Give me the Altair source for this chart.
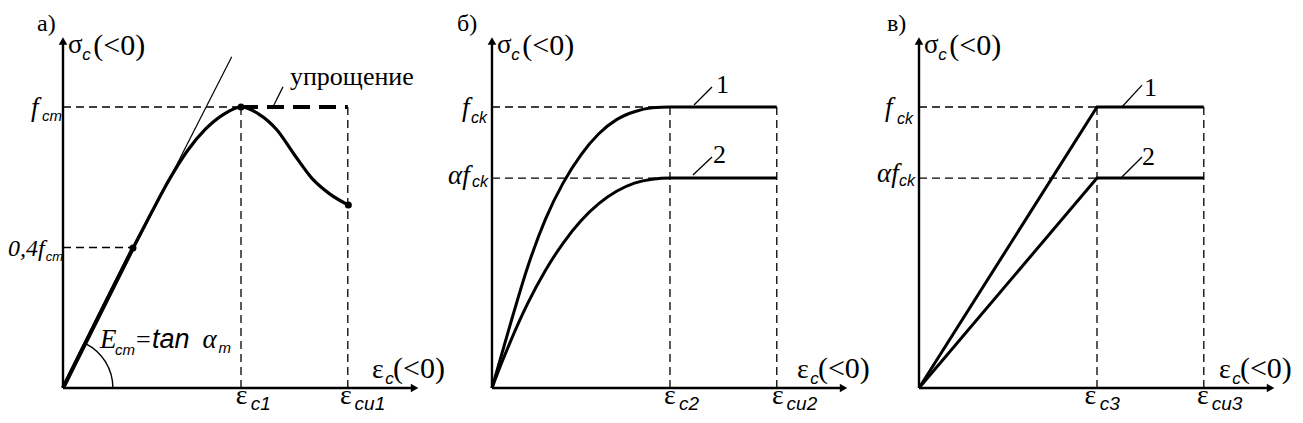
import altair as alt
import pandas as pd

# ---------------- data (strain in units of eps_c, stress in units of f) ----------------
EPS_C = 1.0          # eps_c1 / eps_c2 / eps_c3
EPS_CU = 1.6         # eps_cu1 / eps_cu2 / eps_cu3
F_TOP = 1.0          # f_cm / f_ck
ALPHA_F = 0.747      # alpha * f_ck
F_04 = 0.5           # level drawn for 0,4 f_cm

# panel a) – measured curve
A_CURVE_X = [0.0, 0.393, 0.5, 0.6, 0.7, 0.8, 0.9, 1.0, 1.1, 1.2, 1.3, 1.4, 1.5, 1.603]
A_CURVE_Y = [0.0, 0.498, 0.628, 0.745, 0.845, 0.921, 0.973, 1.0, 0.975, 0.92, 0.83, 0.745, 0.69, 0.651]
A_DOTS_X = [0.393, 1.0, 1.603]
A_DOTS_Y = [0.498, 1.0, 0.651]
A_TANGENT_END = (0.948, 1.179)

# panel б) – parabola-rectangle curves
B_X = [0.0, 0.05, 0.1, 0.2, 0.3, 0.4, 0.5, 0.6, 0.7, 0.8, 0.9, 1.0, 1.6]
B_CURVE1 = [0.0, 0.11, 0.22, 0.43, 0.60, 0.73, 0.83, 0.905, 0.955, 0.983, 0.997, 1.0, 1.0]
B_CURVE2 = [0.0, 0.083, 0.160, 0.300, 0.418, 0.516, 0.595, 0.656, 0.700, 0.729, 0.743, 0.747, 0.747]

# panel в) – bilinear
C_X = [0.0, 1.0, 1.6]
C_LINE1 = [0.0, 1.0, 1.0]
C_LINE2 = [0.0, 0.747, 0.747]

AXIS_Y_END = 1.23
AXIS_X_END = 1.97

# ---------------- layout ----------------
W, H = 1287, 407
Y_DOM = [-27 / 281, 380 / 281]
X_SPAN = W / 178
DOM_A = [-0.309, -0.309 + X_SPAN]
DOM_B = [-2.719, -2.719 + X_SPAN]
DOM_C = [-5.118, -5.118 + X_SPAN]

SERIF = "Liberation Serif"
SANS = "Liberation Sans"


def xenc(dom):
    return alt.X("x:Q", scale=alt.Scale(domain=dom, nice=False, zero=False), axis=None)


def yenc():
    return alt.Y("y:Q", scale=alt.Scale(domain=Y_DOM, nice=False, zero=False), axis=None)


def seg_df(segs):
    rows = []
    for i, s in enumerate(segs):
        for j, (x, y) in enumerate(s):
            rows.append({"x": x, "y": y, "seg": i, "o": j})
    return pd.DataFrame(rows)


def lines(segs, dom, **mk):
    return alt.Chart(seg_df(segs)).mark_line(color="black", **mk).encode(
        x=xenc(dom), y=yenc(), detail="seg:N", order="o:Q")


def texts(rows, dom, font, size, style="normal"):
    df = pd.DataFrame(rows, columns=["x", "y", "t"])
    return alt.Chart(df).mark_text(align="left", baseline="alphabetic", color="black",
                                   font=font, fontSize=size, fontStyle=style).encode(
        x=xenc(dom), y=yenc(), text="t:N")


def axes(dom):
    ax = lines([[(0, 0), (0, AXIS_Y_END)], [(0, 0), (AXIS_X_END, 0)]], dom, strokeWidth=2.4)
    up = alt.Chart(pd.DataFrame({"x": [0.0], "y": [AXIS_Y_END + 0.005]})).mark_point(
        shape="triangle-up", filled=True, color="black", size=75, opacity=1).encode(x=xenc(dom), y=yenc())
    right = alt.Chart(pd.DataFrame({"x": [AXIS_X_END + 0.005], "y": [0.0]})).mark_point(
        shape="triangle-right", filled=True, color="black", size=75, opacity=1).encode(x=xenc(dom), y=yenc())
    return [ax, up, right]


def common_text(dom, tag, tag_x, eps_x, eps_c_x, eps_cu_x, sub_c, sub_cu):
    out = []
    out.append(texts([(tag_x, 1.272, tag)], dom, SERIF, 24))
    out.append(texts([(0.028, 1.192, "σ")], dom, SERIF, 27))
    out.append(texts([(0.170, 1.185, "(<0)"), (eps_x + 0.118, 0.036, "(<0)")], dom, SERIF, 30))
    out.append(texts([(0.108, 1.167, "c"), (eps_x + 0.075, 0.016, "c")], dom, SANS, 17, "italic"))
    out.append(texts([(eps_x, 0.036, "ε"), (eps_c_x, -0.057, "ε"), (eps_cu_x, -0.057, "ε")], dom, SERIF, 28))
    out.append(texts([(eps_c_x + 0.085, -0.078, sub_c), (eps_cu_x + 0.082, -0.078, sub_cu)],
                     dom, SANS, 19, "italic"))
    return out


THIN_DASH = dict(strokeWidth=1.3, strokeDash=[8, 5])

# ---------------- panel a ----------------
la = []
la += axes(DOM_A)
la.append(lines([[(0, F_TOP), (EPS_C, F_TOP)], [(EPS_C, F_TOP), (EPS_C, 0)],
                 [(EPS_CU, F_TOP), (EPS_CU, 0)], [(0, F_04), (A_DOTS_X[0], F_04)]], DOM_A, **THIN_DASH))
la.append(lines([[(EPS_C, F_TOP), (EPS_CU, F_TOP)]], DOM_A, strokeWidth=4, strokeDash=[17, 9]))
la.append(lines([[(0, 0), A_TANGENT_END]], DOM_A, strokeWidth=1.2))
la.append(alt.Chart(pd.DataFrame({"x": A_CURVE_X, "y": A_CURVE_Y})).mark_line(
    color="black", strokeWidth=3.2, interpolate="monotone").encode(x=xenc(DOM_A), y=yenc()))
la.append(lines([[(0, 0), (A_DOTS_X[0], A_DOTS_Y[0])]], DOM_A, strokeWidth=4))
la.append(alt.Chart(pd.DataFrame({"x": A_DOTS_X, "y": A_DOTS_Y})).mark_circle(
    color="black", size=50, opacity=1).encode(x=xenc(DOM_A), y=yenc()))
la.append(lines([[(1.174, 0.993), (1.236, 1.072)]], DOM_A, strokeWidth=1.3))
la.append(alt.Chart(pd.DataFrame({"x": [0.0], "y": [0.0]})).mark_arc(
    radius=50.6, radius2=49.2, theta=0.47, theta2=1.5708, color="black").encode(x=xenc(DOM_A), y=yenc()))
la += common_text(DOM_A, "а)", -0.146, 1.736, 0.970, 1.556, "c1", "cu1")
la.append(texts([(1.275, 1.078, "упрощение")], DOM_A, SERIF, 26))
la.append(texts([(0.410, 0.142, "=")], DOM_A, SERIF, 26))
la.append(texts([(-0.180, 0.968, "f"), (0.208, 0.142, "E"), (0.783, 0.142, "α")], DOM_A, SERIF, 27, "italic"))
la.append(texts([(-0.309, 0.470, "0,4f")], DOM_A, SERIF, 24, "italic"))
la.append(texts([(0.500, 0.142, "tan")], DOM_A, SANS, 27, "italic"))
la.append(texts([(-0.118, 0.950, "cm"), (0.292, 0.117, "cm"), (0.873, 0.125, "m")], DOM_A, SANS, 15, "italic"))
la.append(texts([(-0.097, 0.452, "cm")], DOM_A, SANS, 13, "italic"))
panel_a = alt.layer(*la)

# ---------------- panel b ----------------
lb = []
lb += axes(DOM_B)
lb.append(lines([[(0, F_TOP), (EPS_C, F_TOP)], [(0, ALPHA_F), (EPS_C, ALPHA_F)],
                 [(EPS_C, F_TOP), (EPS_C, 0)], [(EPS_CU, F_TOP), (EPS_CU, 0)]], DOM_B, **THIN_DASH))
dfb = pd.DataFrame({"x": B_X * 2, "y": B_CURVE1 + B_CURVE2, "k": [1] * len(B_X) + [2] * len(B_X)})
lb.append(alt.Chart(dfb).mark_line(color="black", strokeWidth=3, interpolate="monotone").encode(
    x=xenc(DOM_B), y=yenc(), detail="k:N"))
lb.append(lines([[(1.135, 1.007), (1.236, 1.071)], [(1.129, 0.758), (1.236, 0.822)]], DOM_B, strokeWidth=1.3))
lb += common_text(DOM_B, "б)", -0.197, 1.713, 0.966, 1.573, "c2", "cu2")
lb.append(texts([(1.258, 1.050, "1"), (1.242, 0.801, "2")], DOM_B, SERIF, 26))
lb.append(texts([(-0.169, 0.968, "f"), (-0.247, 0.726, "αf")], DOM_B, SERIF, 27, "italic"))
lb.append(texts([(-0.118, 0.943, "ck"), (-0.112, 0.715, "ck")], DOM_B, SANS, 16, "italic"))
panel_b = alt.layer(*lb)

# ---------------- panel c ----------------
lc = []
lc += axes(DOM_C)
lc.append(lines([[(0, F_TOP), (EPS_C, F_TOP)], [(0, ALPHA_F), (EPS_C, ALPHA_F)],
                 [(EPS_C, F_TOP), (EPS_C, 0)], [(EPS_CU, F_TOP), (EPS_CU, 0)]], DOM_C, **THIN_DASH))
lc.append(lines([list(zip(C_X, C_LINE1)), list(zip(C_X, C_LINE2))], DOM_C, strokeWidth=3))
lc.append(lines([[(1.140, 1.0), (1.253, 1.078)], [(1.140, 0.751), (1.253, 0.822)]], DOM_C, strokeWidth=1.3))
lc += common_text(DOM_C, "в)", -0.180, 1.685, 0.930, 1.562, "c3", "cu3")
lc.append(texts([(1.264, 1.039, "1"), (1.253, 0.794, "2")], DOM_C, SERIF, 26))
lc.append(texts([(-0.191, 0.968, "f"), (-0.236, 0.733, "αf")], DOM_C, SERIF, 27, "italic"))
lc.append(texts([(-0.124, 0.940, "ck"), (-0.112, 0.719, "ck")], DOM_C, SANS, 16, "italic"))
panel_c = alt.layer(*lc)

chart = alt.layer(panel_a, panel_b, panel_c).resolve_scale(x="independent").properties(
    width=W, height=H, padding=0, autosize=alt.AutoSizeParams(type="none"),
    background="white").configure_view(stroke=None)

chart.save("out.html", embed_options={"renderer": "svg", "actions": False})
